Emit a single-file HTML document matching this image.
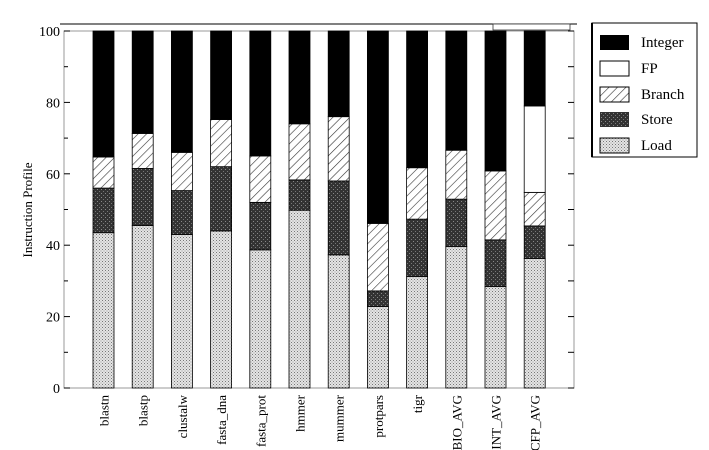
<!DOCTYPE html>
<html><head><meta charset="utf-8"><style>
html,body{margin:0;padding:0;background:#fff;}
svg{display:block;font-family:"Liberation Serif",serif;}
</style></head><body>
<svg id="chart" width="709" height="450" viewBox="0 0 709 450" xmlns="http://www.w3.org/2000/svg">
<defs>
<pattern id="pLoad" width="3" height="3" patternUnits="userSpaceOnUse"><rect width="3" height="3" fill="#e4e4e4"/><rect x="0" y="0" width="1" height="1" fill="#777"/><rect x="1.5" y="1.5" width="1" height="1" fill="#999"/></pattern>
<pattern id="pStore" width="4" height="4" patternUnits="userSpaceOnUse"><rect width="4" height="4" fill="#333"/><rect x="1" y="1" width="1" height="1" fill="#888"/><rect x="3" y="3" width="1" height="1" fill="#777"/></pattern>
<pattern id="pBranch" width="6" height="6" patternUnits="userSpaceOnUse" patternTransform="rotate(45)"><rect width="6" height="6" fill="#fff"/><line x1="0" y1="0" x2="0" y2="6" stroke="#333" stroke-width="1.2"/></pattern>
</defs>
<line x1="60" y1="24" x2="577" y2="24" stroke="#000" stroke-width="1"/>
<rect x="493" y="24" width="77" height="6" fill="#fff" stroke="#333" stroke-width="0.8"/>
<rect x="64" y="31" width="510" height="357" fill="none" stroke="#999" stroke-width="1"/>
<text transform="translate(32,210) rotate(-90)" text-anchor="middle" font-size="13">Instruction Profile</text>
<g id="axes"></g>
<g id="bars"></g>
<g>
<rect x="592" y="23" width="105" height="134" fill="#fff" stroke="#000" stroke-width="1"/>
<line x1="592" y1="23" x2="592" y2="157" stroke="#000" stroke-width="2"/>
<rect x="600" y="35" width="29" height="15" fill="#000"/>
<text x="641" y="47" font-size="15">Integer</text>
<rect x="600" y="61" width="29" height="15" fill="#fff" stroke="#000"/>
<text x="641" y="73" font-size="15">FP</text>
<rect x="600" y="87" width="29" height="15" fill="url(#pBranch)" stroke="#000"/>
<text x="641" y="99" font-size="15">Branch</text>
<rect x="600" y="112" width="29" height="15" fill="url(#pStore)"/>
<text x="641" y="124" font-size="15">Store</text>
<rect x="600" y="138" width="29" height="15" fill="url(#pLoad)" stroke="#000"/>
<text x="641" y="150" font-size="15">Load</text>
</g>
</svg>
<script>
const categories=["blastn","blastp","clustalw","fasta_dna","fasta_prot","hmmer","mummer","protpars","tigr","BIO_AVG","INT_AVG","CFP_AVG"];
const loadVals=[43.5,45.5,43,44,38.7,49.8,37.3,22.8,31.2,39.6,28.4,36.3];
const storeVals=[12.5,16,12.3,18,13.3,8.5,20.7,4.4,16.1,13.3,13.1,9.1];
const branchVals=[8.7,9.8,10.7,13.2,13,15.7,18,18.9,14.4,13.7,19.3,9.4];
const fpVals=[0,0,0,0,0,0,0,0,0,0,0,24.2];
const intVals=[35.3,28.7,34,24.8,35,26,24,53.9,38.3,33.4,39.2,21];
const yTicks=[0,20,40,60,80,100];
const NS="http://www.w3.org/2000/svg";
const X0=64,X1=574,Y0=388,Y1=31;
const y=v=>Y0-(v/100)*(Y0-Y1);
const step=39.2,bw=21;
const xc=i=>103.5+i*step;
const axes=document.getElementById('axes'),bars=document.getElementById('bars');
function mk(tag,attrs,parent){const e=document.createElementNS(NS,tag);for(const k in attrs)e.setAttribute(k,attrs[k]);parent.appendChild(e);return e;}
for(let v=0;v<=100;v+=10){
  const major=v%20===0;
  const l=mk('line',{x1:X0,x2:X0+(major?6:4),y1:y(v),y2:y(v),stroke:'#000'},axes);
  
  
  const r=mk('line',{x1:X1,x2:X1-6,y1:y(v),y2:y(v),stroke:'#000'},axes);
  
  
}
yTicks.forEach(v=>{
  const t=mk('text',{x:X0-4,y:y(v)+5,'text-anchor':'end','font-size':'14'},axes);
  
  
  t.textContent=v;
});
const series=[[loadVals,'url(#pLoad)','load'],[storeVals,'url(#pStore)','store'],[branchVals,'url(#pBranch)','branch'],[fpVals,'#fff','fp'],[intVals,'#000','integer']];
categories.forEach((c,i)=>{
  let base=0;
  const x=xc(i)-bw/2;
  series.forEach(([arr,fill,nm])=>{
    const v=arr[i];
    if(v>0){
      const r=mk('rect',{x:x,y:y(base+v),width:bw,height:y(base)-y(base+v),fill:fill,stroke:'#000','stroke-width':'0.8'},bars);
      
      
    }
    base+=v;
  });
  const t=mk('text',{transform:`translate(${xc(i)+5},395) rotate(-90)`,'text-anchor':'end','font-size':'13'},bars);
  
  
  t.textContent=c;
});
</script>
</body></html>
